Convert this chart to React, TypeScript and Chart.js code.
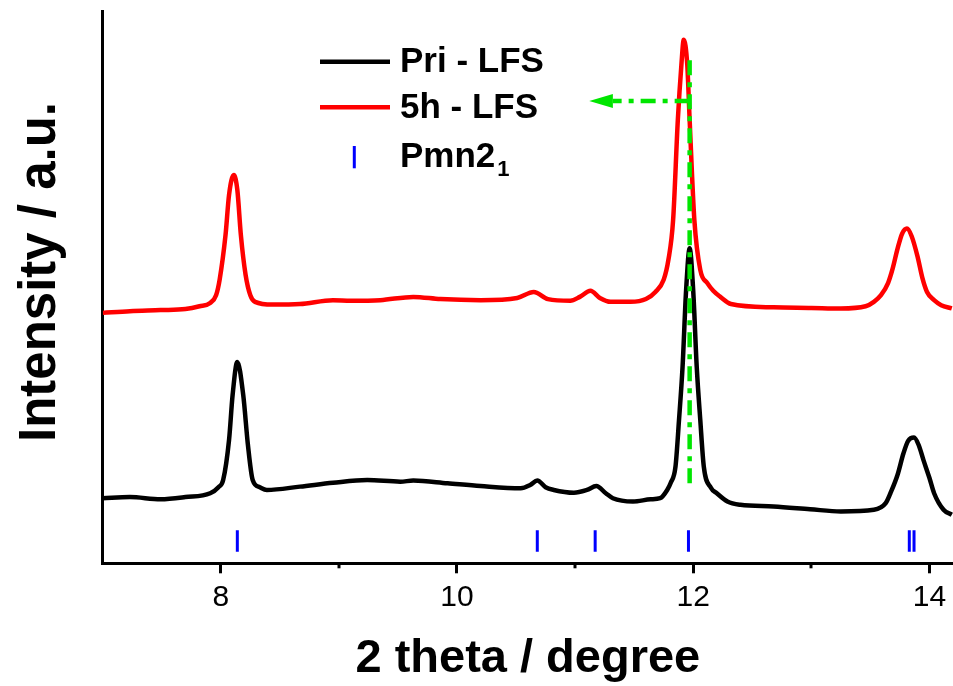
import React, { useEffect, useRef } from 'react';
import { Chart, registerables } from 'chart.js';
Chart.register(...registerables);

// ---- data ----
const priX = [7.00,7.23,7.49,7.70,7.91,7.98,8.02,8.07,8.10,8.14,8.19,8.23,8.27,8.33,8.39,8.67,8.95,9.24,9.52,9.63,9.92,10.20,10.54,10.62,10.68,10.75,10.82,10.99,11.10,11.18,11.26,11.32,11.49,11.64,11.72,11.78,11.81,11.85,11.88,11.91,11.94,11.97,12.00,12.03,12.06,12.09,12.15,12.20,12.29,12.40,12.68,12.99,13.25,13.53,13.63,13.67,13.73,13.78,13.82,13.87,13.91,13.95,14.00,14.04,14.12,14.19];
const priY = [11.8,12.0,11.6,12.0,12.7,13.8,15.1,22.4,30.5,36.5,30.5,21.4,15.1,13.8,13.3,13.9,14.6,15.1,14.8,15.0,14.5,14.0,13.6,14.2,15.0,13.8,13.3,12.8,13.3,14.0,12.7,11.8,11.2,11.6,11.8,13.3,14.6,17.5,26.0,35.6,49.5,57.1,49.5,35.6,26.0,17.5,13.7,12.7,11.2,10.6,10.3,9.8,9.4,9.7,10.9,12.7,16.0,19.9,22.2,22.8,21.4,18.7,15.5,12.7,9.7,8.8];

const lfsX = [7.00,7.23,7.49,7.70,7.82,7.91,7.96,7.99,8.04,8.07,8.11,8.14,8.17,8.21,8.25,8.29,8.44,8.67,8.95,9.10,9.35,9.63,9.86,10.20,10.51,10.65,10.77,10.96,11.04,11.13,11.21,11.30,11.47,11.60,11.68,11.75,11.79,11.83,11.87,11.90,11.92,11.95,11.97,12.01,12.06,12.12,12.17,12.23,12.32,12.68,13.00,13.25,13.46,13.53,13.59,13.65,13.69,13.73,13.77,13.81,13.85,13.90,13.94,13.98,14.04,14.10,14.19];
const lfsY = [45.4,45.7,45.9,46.1,46.6,47.2,48.6,51.4,59.5,66.8,70.4,67.7,59.5,52.3,48.6,47.4,46.9,47.0,47.7,47.6,47.7,48.3,47.9,47.7,48.1,49.2,47.9,47.6,48.3,49.4,48.1,47.4,47.4,47.9,49.2,51.4,55.0,62.2,80.4,90.3,94.9,90.3,80.4,62.2,53.2,50.8,49.4,48.3,47.0,46.4,46.3,46.2,46.6,47.4,48.6,50.8,53.5,57.0,59.8,60.7,59.3,55.6,51.8,49.2,47.7,46.8,46.2];

const refPeaks = [8.14, 10.68, 11.17, 11.96, 13.83, 13.87];
const refTickRange = [2.1, 6.0];

const shiftLineX = 11.97;
const shiftLineY = [14.5, 92.1];
const arrowY = 83.8;
const arrowLineX = [11.97, 11.32];
const arrowTipX = 11.12;

const majorTicks = [8, 10, 12, 14];
const minorTicks = [9, 11, 13];

const seriesNames = ['Pri - LFS', '5h - LFS', 'Pmn2'];
const refSub = '1';
const xTitle = '2 theta / degree';
const yTitle = 'Intensity / a.u.';

const FONT = '"Liberation Sans", Arial, Helvetica, sans-serif';
const GREEN = '#00e600';

function zip(xs: number[], ys: number[]) {
  return xs.map((x, i) => ({ x, y: ys[i] }));
}

export default function App() {
  const ref = useRef<HTMLCanvasElement>(null);
  useEffect(() => {
    const canvas = ref.current!;
    const refData: any[] = [];
    refPeaks.forEach((p) => {
      refData.push({ x: p, y: refTickRange[0] });
      refData.push({ x: p, y: refTickRange[1] });
      refData.push({ x: p, y: null });
    });

    const extras = {
      id: 'extras',
      afterDatasetsDraw(chart: any) {
        const ctx = chart.ctx;
        const xs = chart.scales.x;
        const ys = chart.scales.y;
        const tip = xs.getPixelForValue(arrowTipX);
        const base = xs.getPixelForValue(arrowLineX[1]);
        const ay = ys.getPixelForValue(arrowY);
        ctx.save();
        ctx.fillStyle = GREEN;
        ctx.beginPath();
        ctx.moveTo(tip, ay);
        ctx.lineTo(base, ay - 7);
        ctx.lineTo(base, ay + 7);
        ctx.closePath();
        ctx.fill();
        ctx.restore();
      },
      afterDraw(chart: any) {
        const ctx = chart.ctx;
        const xs = chart.scales.x;
        const bottom = chart.chartArea.bottom;
        ctx.save();
        // minor ticks
        ctx.strokeStyle = '#000';
        ctx.lineWidth = 3;
        minorTicks.forEach((v) => {
          const px = Math.round(xs.getPixelForValue(v));
          ctx.beginPath();
          ctx.moveTo(px, bottom);
          ctx.lineTo(px, bottom + 5);
          ctx.stroke();
        });
        // y title
        ctx.save();
        ctx.translate(41, 272);
        ctx.rotate(-Math.PI / 2);
        ctx.fillStyle = '#000';
        ctx.textAlign = 'center';
        ctx.textBaseline = 'middle';
        ctx.font = `bold 51px ${FONT}`;
        ctx.fillText(yTitle, 0, 0);
        ctx.restore();
        // legend
        ctx.lineWidth = 4.5;
        ctx.strokeStyle = '#000';
        ctx.beginPath();
        ctx.moveTo(320, 61.7);
        ctx.lineTo(390, 61.7);
        ctx.stroke();
        ctx.strokeStyle = '#ff0000';
        ctx.beginPath();
        ctx.moveTo(320, 107.3);
        ctx.lineTo(390, 107.3);
        ctx.stroke();
        ctx.strokeStyle = '#0000ff';
        ctx.lineWidth = 3;
        ctx.beginPath();
        ctx.moveTo(354.3, 146);
        ctx.lineTo(354.3, 168.3);
        ctx.stroke();
        ctx.fillStyle = '#000';
        ctx.textAlign = 'left';
        ctx.textBaseline = 'alphabetic';
        ctx.font = `bold 35px ${FONT}`;
        ctx.fillText(seriesNames[0], 400, 72.3);
        ctx.fillText(seriesNames[1], 400, 118.3);
        ctx.fillText(seriesNames[2], 400, 166.7);
        const w = ctx.measureText(seriesNames[2]).width;
        ctx.font = `bold 22px ${FONT}`;
        ctx.fillText(refSub, 400 + w + 2, 176);
        ctx.restore();
      },
    };

    const chart = new Chart(canvas, {
      type: 'line',
      data: {
        datasets: [
          {
            label: 'shift',
            data: [{ x: shiftLineX, y: shiftLineY[0] }, { x: shiftLineX, y: shiftLineY[1] }],
            borderColor: GREEN,
            borderWidth: 4.5,
            borderDash: [15, 7, 5, 7],
            pointRadius: 0,
            order: 0,
          },
          {
            label: 'arrow',
            data: [{ x: arrowLineX[0], y: arrowY }, { x: arrowLineX[1], y: arrowY }],
            borderColor: GREEN,
            borderWidth: 4.5,
            borderDash: [15, 7, 5, 7],
            pointRadius: 0,
            order: 0,
          },
          {
            label: 'Pmn2_1',
            data: refData,
            borderColor: '#0000ff',
            borderWidth: 3,
            pointRadius: 0,
            spanGaps: false,
            order: 1,
          },
          {
            label: seriesNames[0],
            data: zip(priX, priY),
            borderColor: '#000000',
            borderWidth: 4.5,
            pointRadius: 0,
            cubicInterpolationMode: 'monotone',
            order: 2,
          },
          {
            label: seriesNames[1],
            data: zip(lfsX, lfsY),
            borderColor: '#ff0000',
            borderWidth: 4.5,
            pointRadius: 0,
            cubicInterpolationMode: 'monotone',
            order: 3,
          },
        ],
      },
      options: {
        responsive: false,
        animation: false,
        layout: { padding: { left: 0, right: 0, top: 11.7, bottom: 0 } },
        plugins: { legend: { display: false }, tooltip: { enabled: false } },
        scales: {
          x: {
            type: 'linear',
            min: 7,
            max: 14.2,
            afterFit: (s: any) => { s.height = 122.7; },
            ticks: {
              stepSize: 1,
              includeBounds: false,
              autoSkip: false,
              maxRotation: 0,
              padding: 6,
              color: '#000',
              font: { size: 30, family: FONT },
              callback: (v: any) => (majorTicks.includes(Number(v)) ? String(v) : ''),
            },
            grid: {
              drawOnChartArea: false,
              drawTicks: true,
              tickLength: 10,
              tickWidth: 3,
              tickColor: (c: any) => (c.tick && majorTicks.includes(c.tick.value) ? '#000' : 'rgba(0,0,0,0)'),
            },
            border: { display: true, color: '#000', width: 3 },
            title: {
              display: true,
              text: xTitle,
              color: '#000',
              font: { size: 47, weight: 'bold', family: FONT },
              padding: { top: 0, bottom: -1 },
            },
          },
          y: {
            type: 'linear',
            min: 0,
            max: 100,
            afterFit: (s: any) => { s.width = 102.7; },
            ticks: { display: false },
            grid: { drawOnChartArea: false, drawTicks: false },
            border: { display: true, color: '#000', width: 3 },
            title: { display: false },
          },
        },
      },
      plugins: [extras],
    } as any);
    return () => chart.destroy();
  }, []);

  return (
    <div style={{ position: 'absolute', left: 0, top: 0, width: 953, height: 686, background: '#fff' }}>
      <canvas ref={ref} width={953} height={686} style={{ display: 'block' }} />
    </div>
  );
}
